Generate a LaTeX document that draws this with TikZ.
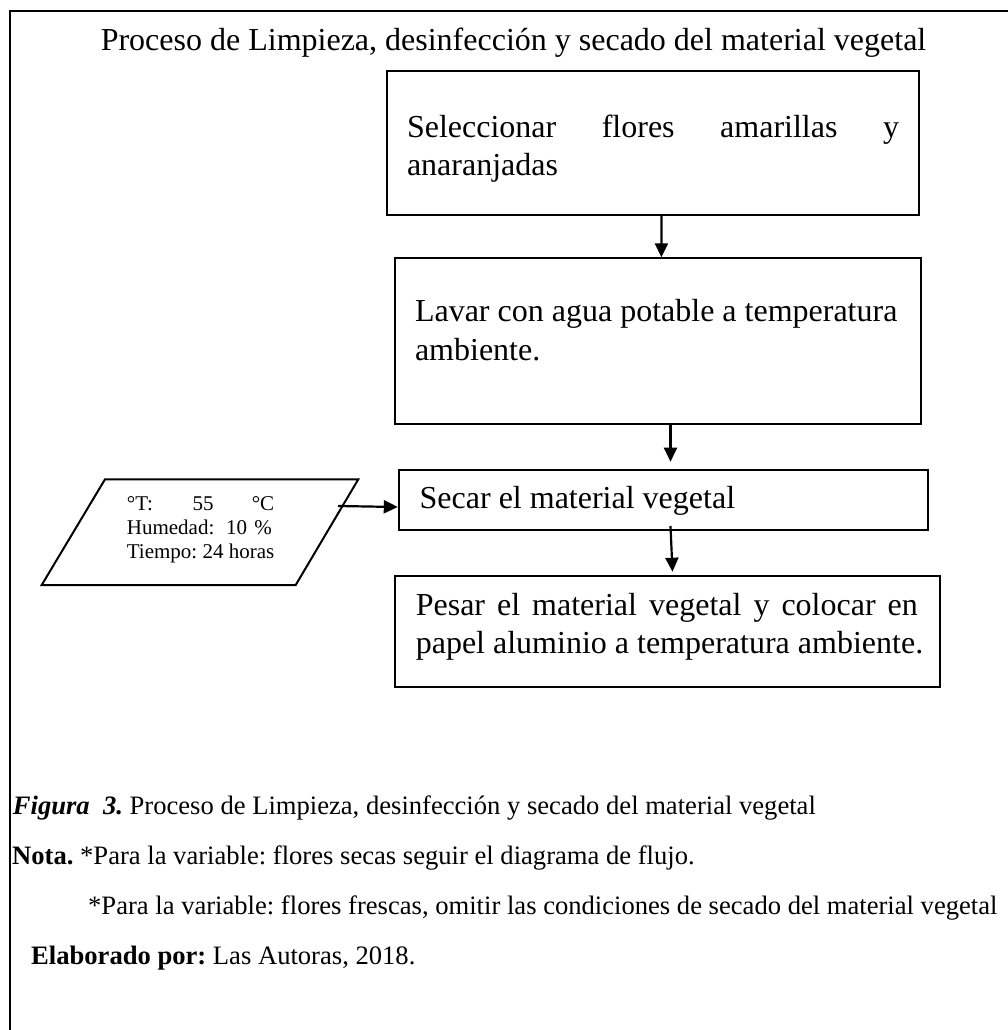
\documentclass[tikz,border=0pt]{standalone}
\usepackage{fontspec}
\setmainfont{Liberation Serif}
\usetikzlibrary{arrows.meta,calc}
\frenchspacing
\begin{document}
\begin{tikzpicture}[x=1bp,y=-1bp,
  stepbox/.style={draw,line width=2bp,inner sep=0pt,anchor=north west},
  flow/.style={line width=2.2bp,-{Triangle[length=14bp,width=13bp]}},
  boxtext/.style={anchor=base west,inner sep=0pt,font=\fontsize{32bp}{38bp}\selectfont},
  condtext/.style={anchor=base west,inner sep=0pt,font=\fontsize{21bp}{24bp}\selectfont},
  captext/.style={anchor=base west,inner sep=0pt,font=\fontsize{26.6bp}{32bp}\selectfont},
  frame/.style={line width=2.2bp}]
\useasboundingbox (0,0) rectangle (1008,1030);

% outer frame (top and left rules)
\coordinate (fr1) at (1008,11);
\coordinate (fr2) at (10,11);
\coordinate (fr3) at (10,1030);
\draw[frame] (fr1) -- (fr2) -- (fr3);

% title
\node[anchor=base,inner sep=0pt,font=\fontsize{32bp}{38bp}\selectfont] (title) at (513.5,50.7)
  {Proceso de Limpieza, desinfección y secado del material vegetal};

% process steps
\node[stepbox,minimum width=532bp,minimum height=144bp] (b1) at (386,70) {};
\node[boxtext] (t1a) at (406.8,137.5)
  {\hbox to 492bp{Seleccionar\hfill flores\hfill amarillas\hfill y}};
\node[boxtext] (t1b) at (406.8,175.5) {anaranjadas};

\node[stepbox,minimum width=526.5bp,minimum height=166bp] (b2) at (393.8,257.3) {};
\node[boxtext] (t2a) at (414.8,321.7) {Lavar con agua potable a temperatura};
\node[boxtext] (t2b) at (414.8,360) {ambiente.};

\node[stepbox,minimum width=528.8bp,minimum height=59.4bp] (b3) at (397.8,469.3) {};
\node[boxtext] (t3) at (419.5,508.3) {Secar el material vegetal};

\node[stepbox,minimum width=544.7bp,minimum height=110.7bp] (b4) at (393.8,575) {};
\node[boxtext] (t4a) at (415.6,615.3)
  {\hbox to 502bp{Pesar\hfill el\hfill material\hfill vegetal\hfill y\hfill colocar\hfill en}};
\node[boxtext] (t4b) at (415.6,653.3) {papel aluminio a temperatura ambiente.};

% drying conditions (data parallelogram)
\coordinate (p1) at (105,479.3);
\coordinate (p2) at (358.3,479.3);
\coordinate (p3) at (295.7,585);
\coordinate (p4) at (41.7,585);
\draw[line width=2bp] (p1) -- (p2) -- (p3) -- (p4) -- cycle;
\node[condtext] (c1) at (126.7,510.5)
  {\hbox to 147.3bp{\rlap{°T:}\hspace*{65.6bp}55\hfill °C}};
\node[condtext] (c2) at (126.7,534.3)
  {\hbox to 145bp{\rlap{Humedad:}\hspace*{99.3bp}10\hfill\%}};
\node[condtext] (c3) at (126.7,558.3) {Tiempo: 24 horas};
\coordinate (pout) at (338,506);

% connectors
\draw[flow] ($(b1.south west)+(275.4,0)$) -- ($(b2.north west)+(267.6,0)$);
\draw[flow] ($(b2.south west)+(276.7,0)$) -- ($(b3.north west)+(272.7,-7.6)$);
\draw[flow] ($(b3.south west)+(272.7,-4.7)$) -- ($(b4.north west)+(278.7,-3.3)$);
\draw[flow] (pout) -- ($(b3.west)+(0,7)$);

% caption and notes
\node[captext] (cap1) at (12.7,814)
  {\textbf{\textit{Figura}}\ \ \textbf{\textit{3.}} Proceso de Limpieza, desinfección y secado del material vegetal};
\node[captext] (cap2) at (12,864)
  {\textbf{Nota.} *Para la variable: flores secas seguir el diagrama de flujo.};
\node[captext] (cap3) at (88,914)
  {*Para la variable: flores frescas, omitir las condiciones de secado del material vegetal};
\node[captext] (cap4) at (31,964)
  {\textbf{Elaborado por:} Las Autoras, 2018.};
\end{tikzpicture}
\end{document}
